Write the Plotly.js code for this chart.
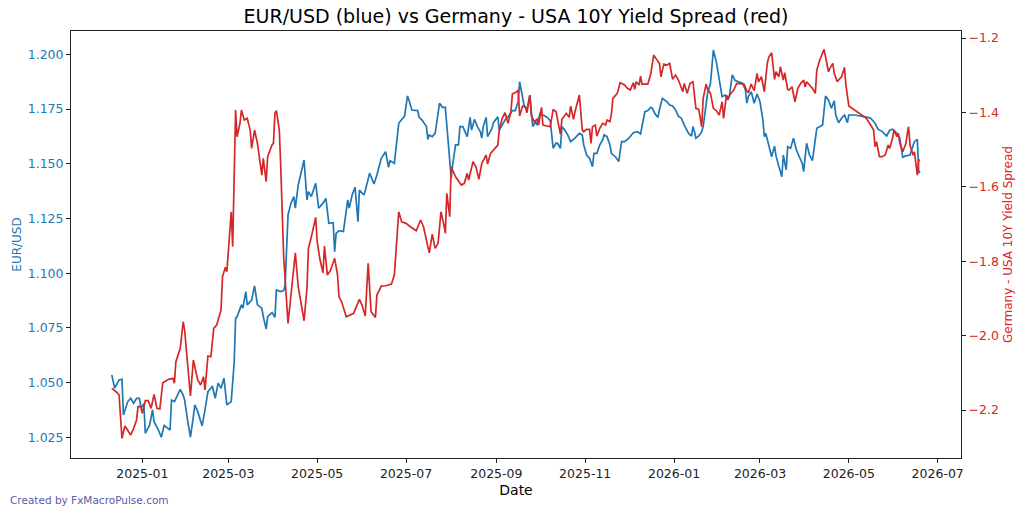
<!DOCTYPE html>
<html>
<head>
<meta charset="utf-8">
<script src="https://cdn.plot.ly/plotly-3.0.1.min.js"></script>
<style>html,body{margin:0;padding:0;background:#fff}#chart{width:1024px;height:515px}</style>
</head>
<body>
<div id="chart"></div>
<script>
const chartTitle = "EUR/USD (blue) vs Germany - USA 10Y Yield Spread (red)";
const leftLabel = "EUR/USD";
const rightLabel = "Germany - USA 10Y Yield Spread";
const xLabel = "Date";
const footer = "Created by FxMacroPulse.com";

const leftTicks = [1.025, 1.050, 1.075, 1.100, 1.125, 1.150, 1.175, 1.200];
const rightTicks = [-2.2, -2.0, -1.8, -1.6, -1.4, -1.2];

const blueDates = ["2024-12-11","2024-12-13","2024-12-16","2024-12-18","2024-12-19","2024-12-22","2024-12-24","2024-12-26","2024-12-28","2024-12-30","2024-12-31",
"2025-01-02","2025-01-03","2025-01-06","2025-01-08","2025-01-09","2025-01-12","2025-01-14","2025-01-16","2025-01-17","2025-01-20","2025-01-21","2025-01-23","2025-01-25","2025-01-27","2025-01-29","2025-01-30",
"2025-02-01","2025-02-03","2025-02-05","2025-02-06","2025-02-08","2025-02-11","2025-02-13","2025-02-15","2025-02-17","2025-02-18","2025-02-20","2025-02-22","2025-02-24","2025-02-26","2025-02-28",
"2025-03-03","2025-03-05","2025-03-06","2025-03-07","2025-03-10","2025-03-11","2025-03-13","2025-03-14","2025-03-17","2025-03-19","2025-03-21","2025-03-24","2025-03-25","2025-03-27","2025-03-28","2025-03-31",
"2025-04-02","2025-04-03","2025-04-06","2025-04-08","2025-04-09","2025-04-11","2025-04-13","2025-04-15","2025-04-16","2025-04-18","2025-04-20","2025-04-22","2025-04-24","2025-04-25","2025-04-27","2025-04-30",
"2025-05-02","2025-05-05","2025-05-07","2025-05-09","2025-05-12","2025-05-13","2025-05-14","2025-05-16","2025-05-19","2025-05-22","2025-05-23","2025-05-25","2025-05-27","2025-05-29","2025-05-30",
"2025-06-02","2025-06-03","2025-06-06","2025-06-09","2025-06-11","2025-06-14","2025-06-17","2025-06-19","2025-06-20","2025-06-23","2025-06-26","2025-06-30",
"2025-07-02","2025-07-03","2025-07-05","2025-07-09","2025-07-10","2025-07-12","2025-07-15","2025-07-16","2025-07-17","2025-07-19","2025-07-21","2025-07-24","2025-07-26","2025-07-28","2025-07-30",
"2025-08-01","2025-08-02","2025-08-04","2025-08-06","2025-08-07","2025-08-09","2025-08-10","2025-08-12","2025-08-14","2025-08-15","2025-08-17","2025-08-19","2025-08-21","2025-08-22","2025-08-23","2025-08-25","2025-08-26","2025-08-29","2025-08-30",
"2025-09-02","2025-09-03","2025-09-05","2025-09-07","2025-09-10","2025-09-12","2025-09-14","2025-09-16","2025-09-17","2025-09-19","2025-09-20","2025-09-22","2025-09-24","2025-09-26","2025-09-28","2025-09-29",
"2025-10-01","2025-10-03","2025-10-06","2025-10-08","2025-10-09","2025-10-10","2025-10-12","2025-10-13","2025-10-15","2025-10-16","2025-10-18","2025-10-20","2025-10-22","2025-10-25","2025-10-28","2025-10-30","2025-10-31",
"2025-11-02","2025-11-04","2025-11-06","2025-11-07","2025-11-09","2025-11-11","2025-11-13","2025-11-14","2025-11-16","2025-11-18","2025-11-19","2025-11-22","2025-11-24","2025-11-26","2025-11-28",
"2025-12-01","2025-12-04","2025-12-07","2025-12-09","2025-12-12","2025-12-14","2025-12-16","2025-12-17","2025-12-19","2025-12-21","2025-12-22","2025-12-24","2025-12-27","2025-12-29","2025-12-31",
"2026-01-02","2026-01-04","2026-01-06","2026-01-08","2026-01-11","2026-01-13","2026-01-14","2026-01-15","2026-01-16","2026-01-18","2026-01-20","2026-01-21","2026-01-23","2026-01-24","2026-01-26","2026-01-28","2026-01-30",
"2026-02-01","2026-02-03","2026-02-05","2026-02-07","2026-02-08","2026-02-10","2026-02-12","2026-02-15","2026-02-17","2026-02-19","2026-02-20","2026-02-21","2026-02-23","2026-02-25","2026-02-27",
"2026-03-01","2026-03-03","2026-03-04","2026-03-05","2026-03-07","2026-03-09","2026-03-11","2026-03-12","2026-03-14","2026-03-16","2026-03-17","2026-03-19","2026-03-20","2026-03-22","2026-03-24","2026-03-26","2026-03-28","2026-03-30","2026-03-31",
"2026-04-02","2026-04-04","2026-04-06","2026-04-09","2026-04-13","2026-04-15","2026-04-17","2026-04-19","2026-04-21","2026-04-22","2026-04-24","2026-04-26","2026-04-28","2026-04-30",
"2026-05-01","2026-05-05","2026-05-10","2026-05-14","2026-05-16","2026-05-19","2026-05-21","2026-05-24","2026-05-27","2026-05-29","2026-05-31",
"2026-06-03","2026-06-05","2026-06-07","2026-06-09","2026-06-12","2026-06-14","2026-06-15","2026-06-17","2026-06-18","2026-06-19"];

const eurusd = [1.0535,1.0474,1.0512,1.0515,1.0352,1.0413,1.0428,1.0405,1.0428,1.0428,1.0383,
1.0403,1.0268,1.0306,1.0375,1.0321,1.0283,1.0250,1.0306,1.0298,1.0283,1.0420,1.0413,1.0443,1.0469,1.0443,1.0420,
1.0329,1.0250,1.0344,1.0398,1.0367,1.0302,1.0375,1.0458,1.0474,1.0484,1.0428,1.0497,1.0474,1.0520,1.0398,
1.0413,1.0588,1.0794,1.0801,1.0855,1.0840,1.0916,1.0855,1.0877,1.0942,1.0855,1.0840,1.0801,1.0744,1.0801,1.0820,
1.0798,1.0923,1.0916,1.0920,1.0946,1.1266,1.1320,1.1350,1.1297,1.1403,1.1457,1.1517,1.1335,1.1373,1.1350,1.1411,
1.1297,1.1320,1.1342,1.1228,1.1231,1.1098,1.1182,1.1194,1.1190,1.1335,1.1297,1.1357,1.1393,1.1235,1.1380,
1.1357,1.1377,1.1457,1.1408,1.1449,1.1525,1.1555,1.1484,1.1514,1.1502,1.1685,1.1718,
1.1810,1.1792,1.1746,1.1743,1.1712,1.1700,1.1670,1.1612,1.1632,1.1624,1.1639,1.1777,1.1758,1.1758,1.1594,
1.1434,1.1495,1.1586,1.1586,1.1670,1.1670,1.1654,1.1624,1.1712,1.1654,1.1703,1.1670,1.1647,1.1617,1.1670,1.1712,1.1624,1.1662,1.1688,
1.1715,1.1654,1.1677,1.1700,1.1723,1.1743,1.1743,1.1784,1.1875,1.1814,1.1769,1.1746,1.1814,1.1670,1.1692,1.1677,
1.1731,1.1723,1.1712,1.1697,1.1639,1.1571,1.1594,1.1594,1.1571,1.1670,1.1654,1.1632,1.1601,1.1617,1.1639,1.1632,1.1586,
1.1540,1.1525,1.1487,1.1548,1.1548,1.1586,1.1609,1.1632,1.1624,1.1586,1.1548,1.1530,1.1510,1.1601,1.1601,
1.1617,1.1642,1.1647,1.1636,1.1738,1.1743,1.1758,1.1754,1.1728,1.1712,1.1749,1.1799,1.1784,1.1769,1.1764,
1.1746,1.1718,1.1708,1.1677,1.1639,1.1627,1.1670,1.1647,1.1617,1.1627,1.1647,1.1670,1.1784,1.1822,1.1868,1.2020,1.1967,
1.1886,1.1807,1.1814,1.1792,1.1810,1.1906,1.1880,1.1871,1.1868,1.1838,1.1777,1.1807,1.1829,1.1777,1.1819,
1.1784,1.1700,1.1624,1.1639,1.1586,1.1532,1.1581,1.1536,1.1487,1.1441,1.1540,1.1472,1.1578,1.1571,1.1617,1.1563,1.1532,1.1502,1.1464,
1.1594,1.1540,1.1514,1.1662,1.1677,1.1810,1.1792,1.1754,1.1788,1.1723,1.1688,1.1708,1.1723,1.1688,
1.1723,1.1723,1.1718,1.1712,1.1708,1.1685,1.1658,1.1647,1.1627,1.1654,1.1658,
1.1639,1.1617,1.1530,1.1536,1.1540,1.1581,1.1601,1.1612,1.1459,1.1464];

const redDates = ["2024-12-11","2024-12-14","2024-12-16","2024-12-18","2024-12-20","2024-12-22","2024-12-24","2024-12-26","2024-12-28","2024-12-29","2024-12-31",
"2025-01-01","2025-01-03","2025-01-05","2025-01-07","2025-01-09","2025-01-11","2025-01-13","2025-01-15","2025-01-19","2025-01-22","2025-01-23","2025-01-24","2025-01-27","2025-01-29","2025-01-30",
"2025-02-01","2025-02-03","2025-02-05","2025-02-08","2025-02-10","2025-02-12","2025-02-13","2025-02-15","2025-02-17","2025-02-19","2025-02-21","2025-02-24","2025-02-25","2025-02-27","2025-02-28",
"2025-03-02","2025-03-03","2025-03-04","2025-03-06","2025-03-07","2025-03-09","2025-03-10","2025-03-12","2025-03-14","2025-03-16","2025-03-17","2025-03-19","2025-03-21","2025-03-24","2025-03-25","2025-03-27","2025-03-28","2025-03-31",
"2025-04-01","2025-04-02","2025-04-03","2025-04-05","2025-04-06","2025-04-08","2025-04-11","2025-04-13","2025-04-15","2025-04-16","2025-04-18","2025-04-20","2025-04-22","2025-04-24","2025-04-25","2025-04-27","2025-04-30",
"2025-05-01","2025-05-03","2025-05-05","2025-05-06","2025-05-08","2025-05-10","2025-05-13","2025-05-15","2025-05-16","2025-05-18","2025-05-21","2025-05-24","2025-05-26","2025-05-30",
"2025-06-01","2025-06-03","2025-06-05","2025-06-07","2025-06-10","2025-06-11","2025-06-14","2025-06-17","2025-06-21","2025-06-23","2025-06-25","2025-06-26","2025-06-28",
"2025-07-01","2025-07-04","2025-07-08","2025-07-11","2025-07-13","2025-07-16","2025-07-17","2025-07-19","2025-07-21","2025-07-23","2025-07-25","2025-07-27","2025-07-28","2025-07-29","2025-07-31",
"2025-08-01","2025-08-04","2025-08-08","2025-08-10","2025-08-12","2025-08-13","2025-08-16","2025-08-18","2025-08-20","2025-08-22","2025-08-25","2025-08-26","2025-08-28","2025-08-30",
"2025-09-02","2025-09-03","2025-09-05","2025-09-07","2025-09-09","2025-09-11","2025-09-12","2025-09-15","2025-09-16","2025-09-17","2025-09-19","2025-09-21","2025-09-22","2025-09-24","2025-09-25","2025-09-27","2025-09-29","2025-09-30",
"2025-10-02","2025-10-03","2025-10-08","2025-10-10","2025-10-12","2025-10-13","2025-10-15","2025-10-16","2025-10-19","2025-10-21","2025-10-22","2025-10-24","2025-10-25","2025-10-28","2025-10-30","2025-10-31",
"2025-11-02","2025-11-04","2025-11-05","2025-11-06","2025-11-08","2025-11-09","2025-11-11","2025-11-13","2025-11-15","2025-11-16","2025-11-18","2025-11-19","2025-11-20","2025-11-23","2025-11-25","2025-11-28","2025-11-30",
"2025-12-02","2025-12-04","2025-12-05","2025-12-06","2025-12-08","2025-12-09","2025-12-10","2025-12-14","2025-12-16","2025-12-18","2025-12-20","2025-12-22","2025-12-23","2025-12-25","2025-12-27","2025-12-29","2025-12-31",
"2026-01-02","2026-01-04","2026-01-07","2026-01-08","2026-01-10","2026-01-12","2026-01-14","2026-01-16","2026-01-18","2026-01-20","2026-01-21","2026-01-23","2026-01-24","2026-01-26","2026-01-28","2026-01-30","2026-01-31",
"2026-02-01","2026-02-03","2026-02-04","2026-02-06","2026-02-07","2026-02-09","2026-02-11","2026-02-13","2026-02-16","2026-02-18","2026-02-20","2026-02-21","2026-02-23","2026-02-25","2026-02-27","2026-02-28",
"2026-03-02","2026-03-04","2026-03-06","2026-03-07","2026-03-09","2026-03-11","2026-03-12","2026-03-14","2026-03-15","2026-03-17","2026-03-18","2026-03-20","2026-03-21","2026-03-23","2026-03-25","2026-03-27","2026-03-29","2026-03-31",
"2026-04-01","2026-04-02","2026-04-04","2026-04-06","2026-04-08","2026-04-09","2026-04-11","2026-04-14","2026-04-15","2026-04-17","2026-04-18","2026-04-20","2026-04-21","2026-04-23","2026-04-25","2026-04-26","2026-04-28","2026-04-29",
"2026-05-01","2026-05-05","2026-05-10","2026-05-13","2026-05-16","2026-05-18","2026-05-19","2026-05-20","2026-05-22","2026-05-24","2026-05-26","2026-05-28","2026-05-29","2026-05-31",
"2026-06-01","2026-06-03","2026-06-04","2026-06-05","2026-06-07","2026-06-09","2026-06-11","2026-06-12","2026-06-14","2026-06-15","2026-06-17","2026-06-18","2026-06-19"];

const spread = [-2.1417,-2.1508,-2.1597,-2.2761,-2.2430,-2.2538,-2.2672,-2.2493,-2.2269,-2.1911,-2.1911,
-2.2089,-2.1750,-2.1750,-2.1955,-2.1578,-2.1955,-2.1973,-2.1266,-2.1175,-2.1148,-2.1282,-2.0702,-2.0341,-1.9626,-1.9850,
-2.0836,-2.1624,-2.0656,-2.1194,-2.1328,-2.1105,-2.1462,-2.0548,-2.0567,-1.9804,-1.9715,-1.9312,-1.8417,-1.8164,-1.8282,
-1.7250,-1.6669,-1.7610,-1.3935,-1.4653,-1.4293,-1.3935,-1.4204,-1.4159,-1.4473,-1.4965,-1.4473,-1.4830,-1.5683,-1.5234,-1.5863,-1.5190,-1.4876,
-1.4830,-1.4024,-1.3953,-1.4473,-1.5460,-1.7879,-1.9670,-1.8954,-1.8237,-1.7772,-1.8686,-1.9132,-1.9600,-1.8729,-1.7654,-1.7341,-1.6820,
-1.7476,-1.7968,-1.8309,-1.7591,-1.8371,-1.8255,-1.7922,-1.8371,-1.8954,-1.9116,-1.9492,-1.9446,-1.9401,-1.9024,
-1.9204,-1.9473,-1.8057,-1.9358,-1.9509,-1.8909,-1.8667,-1.8659,-1.8613,-1.8371,-1.7296,-1.6669,-1.6938,
-1.6982,-1.7073,-1.7180,-1.6892,-1.7073,-1.7610,-1.7772,-1.7269,-1.7653,-1.7519,-1.6669,-1.7027,-1.7250,-1.6175,-1.6804,
-1.5460,-1.5728,-1.5952,-1.5906,-1.5637,-1.5817,-1.5325,-1.5460,-1.5797,-1.5369,-1.5145,-1.5387,-1.5100,-1.5011,
-1.4876,-1.4473,-1.4159,-1.4008,-1.4293,-1.3982,-1.3505,-1.3444,-1.3398,-1.4097,-1.3828,-1.3863,-1.4008,-1.3532,-1.4070,-1.4250,-1.4185,-1.4339,
-1.3863,-1.4339,-1.4384,-1.3917,-1.3982,-1.4185,-1.4581,-1.4185,-1.4024,-1.4131,-1.3828,-1.4185,-1.3982,-1.3532,-1.4473,-1.4519,
-1.4454,-1.4454,-1.4830,-1.4384,-1.4339,-1.4634,-1.4430,-1.4293,-1.4339,-1.4204,-1.4250,-1.4043,-1.3621,-1.3487,-1.3202,-1.3263,-1.3352,
-1.3398,-1.3202,-1.3379,-1.3175,-1.3263,-1.3022,-1.3237,-1.3237,-1.2968,-1.2457,-1.2573,-1.2681,-1.3040,-1.2699,-1.2726,-1.2681,-1.3111,
-1.2995,-1.3129,-1.3444,-1.3218,-1.3487,-1.3218,-1.3175,-1.3890,-1.3917,-1.4384,-1.3621,-1.3237,-1.3379,-1.3487,-1.3890,-1.3953,-1.4024,
-1.4070,-1.3712,-1.4159,-1.3532,-1.3621,-1.3487,-1.3398,-1.3218,-1.3218,-1.3237,-1.3417,-1.3471,-1.3237,-1.3417,-1.2949,-1.3175,
-1.3040,-1.3444,-1.2681,-1.2519,-1.2395,-1.3111,-1.2906,-1.3040,-1.2771,-1.3129,-1.2933,-1.3379,-1.3398,-1.3309,-1.3712,-1.3352,-1.3218,-1.3129,
-1.3309,-1.3175,-1.3263,-1.3352,-1.3487,-1.2860,-1.2591,-1.2304,-1.2503,-1.2906,-1.2815,-1.2681,-1.2949,-1.3175,-1.3083,-1.3040,-1.2788,-1.3263,
-1.3828,-1.3935,-1.4070,-1.4159,-1.4339,-1.4473,-1.4922,-1.4788,-1.5190,-1.5190,-1.5145,-1.4876,-1.4966,-1.4696,
-1.4473,-1.4653,-1.4561,-1.4830,-1.5056,-1.4850,-1.4384,-1.4876,-1.5145,-1.5056,-1.5683,-1.5280,-1.5280];

const BLUE = "#1f77b4", RED = "#d62728";
const FONT = "DejaVu Sans, sans-serif";

const traces = [
  {x: blueDates, y: eurusd, type: "scatter", mode: "lines", name: "EUR/USD",
   line: {color: BLUE, width: 1.7}, yaxis: "y", hoverinfo: "x+y"},
  {x: redDates, y: spread, type: "scatter", mode: "lines", name: "Germany - USA 10Y Yield Spread",
   line: {color: RED, width: 1.7}, yaxis: "y2", hoverinfo: "x+y"}
];

const layout = {
  width: 1024, height: 515,
  margin: {l: 71, r: 63, t: 31, b: 57, pad: 0},
  paper_bgcolor: "#ffffff", plot_bgcolor: "#ffffff",
  font: {family: FONT, size: 12.5, color: "#222"},
  showlegend: false,
  title: {text: chartTitle, x: 0.5, xref: "paper", xanchor: "center",
          y: 1 - 16/515, yref: "container", yanchor: "middle",
          font: {family: FONT, size: 19, color: "#000"}},
  xaxis: {
    type: "date", range: ["2024-11-13", "2026-07-17"],
    tick0: "2025-01-01", dtick: "M2", tickformat: "%Y-%m",
    showgrid: false, zeroline: false,
    showline: true, linecolor: "#222", linewidth: 1, mirror: true,
    ticks: "outside", ticklen: 4, tickwidth: 1, tickcolor: "#222",
    tickfont: {family: FONT, size: 12.5, color: "#222"},
    title: {text: xLabel, standoff: 5, font: {family: FONT, size: 14, color: "#000"}}
  },
  yaxis: {
    range: [1.0155, 1.2107], tickvals: leftTicks, tickformat: ".3f",
    showgrid: false, zeroline: false,
    showline: true, linecolor: "#222", linewidth: 1,
    ticks: "outside", ticklen: 4, tickwidth: 1, tickcolor: "#222",
    tickfont: {family: FONT, size: 12.5, color: BLUE},
    title: {text: leftLabel, standoff: 3, font: {family: FONT, size: 12, color: BLUE}}
  },
  yaxis2: {
    overlaying: "y", side: "right",
    range: [-2.329, -1.181], tickvals: rightTicks, tickformat: ".1f",
    showgrid: false, zeroline: false,
    showline: true, linecolor: "#222", linewidth: 1,
    ticks: "outside", ticklen: 4, tickwidth: 1, tickcolor: "#222",
    tickfont: {family: FONT, size: 12.5, color: RED},
    title: {text: rightLabel, standoff: 5, font: {family: FONT, size: 12, color: RED}}
  },
  annotations: [
    {text: footer, xref: "paper", yref: "paper", x: -63/890, y: -42/427,
     xanchor: "left", yanchor: "middle", showarrow: false,
     font: {family: FONT, size: 10.5, color: "#5b5ba8"}}
  ]
};

Plotly.newPlot("chart", traces, layout, {displayModeBar: false, staticPlot: true});
</script>
</body>
</html>
